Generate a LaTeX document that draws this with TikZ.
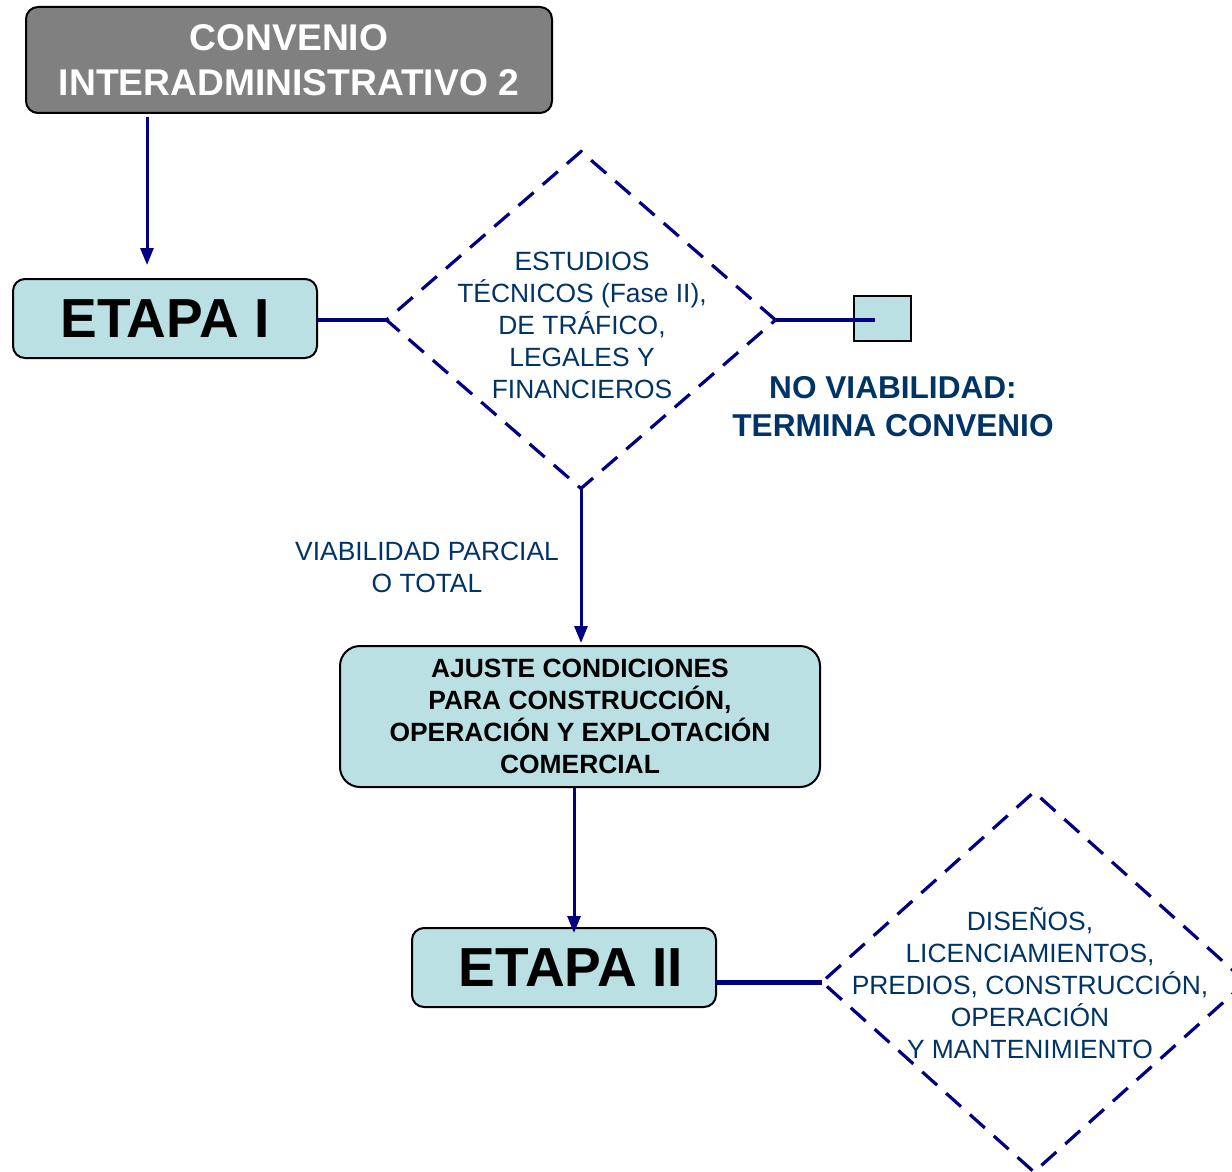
\documentclass[tikz,border=0pt]{standalone}
\usepackage{fontspec}
\setmainfont{Liberation Sans}
\usetikzlibrary{arrows.meta,shapes.geometric}
\definecolor{navyline}{RGB}{0,0,128}
\definecolor{txtblue}{RGB}{0,51,102}
\definecolor{boxfill}{RGB}{186,224,228}
\definecolor{boxgray}{RGB}{128,128,128}
\begin{document}
\begin{tikzpicture}[x=0.5pt,y=-0.5pt,
  rbox/.style={draw=black,line width=1pt,rounded corners=6pt,fill=boxfill,inner sep=0pt,outer sep=0pt,align=center},
  dia/.style={diamond,draw=navyline,line width=1.6pt,dash pattern=on 10pt off 6pt,inner sep=0pt,outer sep=0pt},
  dtext/.style={text=txtblue,font=\fontsize{13.2}{16}\selectfont,align=center,inner sep=0pt},
  arr/.style={draw=navyline,line width=1.5pt,-{Triangle[length=8.5pt,width=6.5pt]}},
  link/.style={draw=navyline,line width=1.5pt}]
\useasboundingbox (0,0) rectangle (1232,1172);

% boxes
\node[rbox,fill=boxgray,minimum width=263pt,minimum height=53pt,text=white,
  font=\fontsize{18.6}{22.5}\selectfont\bfseries] (conv) at (289,60)
  {CONVENIO\\INTERADMINISTRATIVO 2};
\node[rbox,minimum width=152pt,minimum height=39.5pt,font=\fontsize{27.5}{30}\selectfont\bfseries] (e1) at (165,318.5) {ETAPA I};
\node[rbox,rounded corners=10pt,minimum width=240pt,minimum height=70.5pt,font=\fontsize{13.2}{16}\selectfont\bfseries] (aj) at (580,716.5)
  {AJUSTE CONDICIONES\\PARA CONSTRUCCIÓN,\\OPERACIÓN Y EXPLOTACIÓN\\COMERCIAL};
\node[rbox,minimum width=152pt,minimum height=39.5pt,font=\fontsize{27.5}{30}\selectfont\bfseries] (e2) at (564,967.5) {\hspace{7pt}ETAPA II};
\node[draw=black,line width=1pt,fill=boxfill,minimum width=28.5pt,minimum height=22.5pt,inner sep=0pt,outer sep=0pt] (sq) at (882.5,318.5) {};

% diamonds
\node[dia,minimum width=194.5pt,minimum height=168.5pt] (d1) at (581,320) {};
\node[dtext] (d1t) at (582,325) {ESTUDIOS\\TÉCNICOS (Fase II),\\DE TRÁFICO,\\LEGALES Y\\FINANCIEROS};
\node[dia,minimum width=212pt,minimum height=190pt] (d2) at (1034,982) {};
\node[dtext] (d2t) at (1030,983) {DISEÑOS,\\LICENCIAMIENTOS,\\PREDIOS, CONSTRUCCIÓN,\\OPERACIÓN\\Y MANTENIMIENTO};

% labels
\node[text=txtblue,font=\fontsize{15.8}{19}\selectfont\bfseries,align=center,inner sep=0pt] (nv) at (893,407)
  {NO VIABILIDAD:\\TERMINA CONVENIO};
\node[text=txtblue,font=\fontsize{13.2}{16}\selectfont,align=center,inner sep=0pt] (vp) at (427,567)
  {VIABILIDAD PARCIAL\\O TOTAL};

% connectors
\coordinate (c1) at (147,0);
\coordinate (c2) at (574,0);
\draw[arr] ([yshift=-2pt]conv.south -| c1) -- ([yshift=7pt]e1.north -| c1);
\draw[link,line width=2pt] (e1.east |- d1.west) -- (d1.west);
\draw[link,line width=2pt] (d1.east) -- ([xshift=-4pt]d1.east -| sq.center);
\draw[arr] (d1.south) -- ([yshift=1.5pt]d1.south |- aj.north);
\draw[arr] (aj.south -| c2) -- ([yshift=-2.5pt]e2.north -| c2);
\draw[link,line width=2.5pt] (e2.east |- d2.west) -- (d2.west);
\end{tikzpicture}
\end{document}
